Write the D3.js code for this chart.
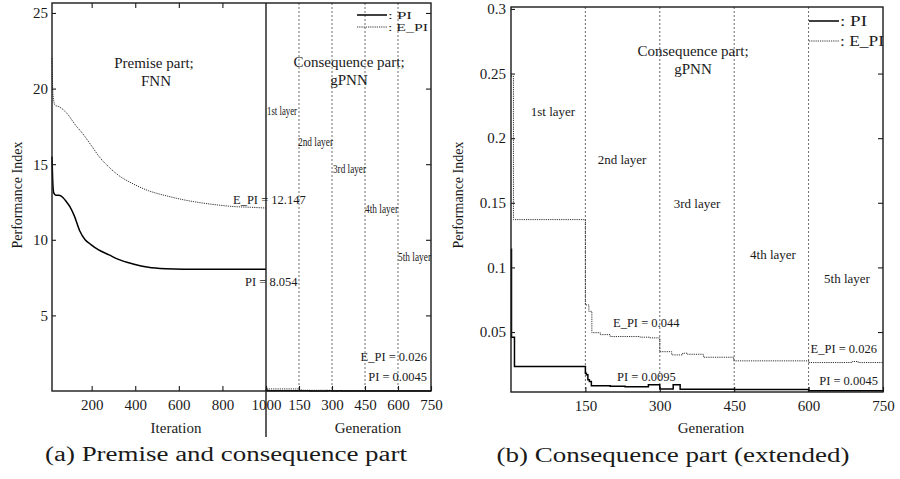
<!DOCTYPE html>
<html>
<head>
<meta charset="utf-8">
<script src="https://cdn.jsdelivr.net/npm/d3@7"></script>
<style>
  html, body { margin: 0; padding: 0; background: #fff; }
  svg { display: block; }
</style>
</head>
<body>
<div id="chart"></div>
<script>
// ── Data ──
// premise part, x = iteration
var iterPI = [[18, 15.5], [21, 14.0], [26, 13.1], [35, 12.95], [50, 12.95], [68, 12.8],
  [85, 12.5], [100, 12.2], [120, 11.6], [145, 10.6], [170, 10.0], [195, 9.7], [230, 9.35],
  [280, 9.0], [320, 8.72], [390, 8.4], [460, 8.18], [540, 8.08], [620, 8.05], [1000, 8.05]];
var iterEPI = [[18, 22.0], [20, 20.5], [24, 19.4], [32, 18.9], [50, 18.8], [70, 18.6],
  [90, 18.3], [125, 17.6], [160, 17.0], [200, 16.2], [240, 15.4], [280, 14.8], [320, 14.3],
  [390, 13.7], [460, 13.25], [545, 12.9], [620, 12.65], [700, 12.45], [780, 12.3],
  [850, 12.2], [930, 12.15], [1000, 12.1]];
// consequence part, x = generation (step changes)
var genPI = [[0, 0.114], [1, 0.046], [7, 0.0233], [150, 0.0182], [152, 0.0169], [155, 0.0131],
  [158, 0.0118], [162, 0.0085], [200, 0.0080], [230, 0.0076], [277, 0.0092], [300, 0.0059],
  [327, 0.0092], [341, 0.0058], [450, 0.0055], [600, 0.0045], [750, 0.0045]];
var genEPI = [[0, 0.248], [5, 0.137], [150, 0.071], [157, 0.066], [163, 0.0495], [180, 0.048],
  [200, 0.0465], [260, 0.046], [280, 0.0455], [300, 0.0348], [324, 0.0323], [346, 0.0336],
  [356, 0.0328], [388, 0.0305], [449, 0.0277], [600, 0.0264], [688, 0.0272], [700, 0.0264],
  [750, 0.0264]];

var layerBounds = [150, 300, 450, 600];
var layerNames = ['1st layer', '2nd layer', '3rd layer', '4th layer', '5th layer'];
var iterTicks = [200, 400, 600, 800, 1000];
var genTicks = [150, 300, 450, 600, 750];
var leftYTicks = [5, 10, 15, 20, 25];
var rightYTicks = [0.05, 0.1, 0.15, 0.2, 0.25, 0.3];

(function () {
  'use strict';

  var W = 900, H = 479;
  var SERIF = '"Liberation Serif", "Times New Roman", serif';
  var INK = '#1a1a1a';
  var FRAME_W = 1.4;

  var svg = d3.select('#chart').append('svg')
    .attr('width', W).attr('height', H)
    .attr('font-family', SERIF);

  // ── Scales ──
  var xIter = d3.scaleLinear().domain([18, 1000]).range([52, 266]);
  var xGenL = d3.scaleLinear().domain([0, 750]).range([266, 431]);
  var yL = d3.scaleLinear().domain([0, 25.66]).range([391, 3]);

  var xGenR = d3.scaleLinear().domain([0, 750]).range([511, 883]);
  var yR = d3.scaleLinear().domain([0.0036, 0.3015]).range([392, 7]);

  function styleAxis(sel, size) {
    sel.select('.domain').remove();
    sel.selectAll('.tick line').attr('stroke', INK).attr('stroke-width', 1.1);
    sel.selectAll('.tick text').attr('fill', INK).attr('font-size', size || '15px')
      .attr('font-family', SERIF);
  }

  function text(x, y, str, opts) {
    opts = opts || {};
    var t = svg.append('text')
      .attr('x', x).attr('y', y)
      .attr('fill', INK)
      .attr('font-size', opts.size || '13px')
      .attr('text-anchor', opts.anchor || 'start')
      .text(str);
    if (opts.len) t.attr('textLength', opts.len).attr('lengthAdjust', 'spacingAndGlyphs');
    return t;
  }

  // ── Layer separators (dotted) ──
  function separators(xs, y0, y1) {
    svg.append('g').selectAll('line')
      .data(layerBounds).join('line')
      .attr('x1', function (d) { return xs(d); })
      .attr('x2', function (d) { return xs(d); })
      .attr('y1', y0).attr('y2', y1)
      .attr('stroke', '#444').attr('stroke-width', 0.8)
      .attr('stroke-dasharray', '2,2');
  }
  separators(xGenL, 3, 391);
  separators(xGenR, 7, 392);

  // ── Curves ──
  function drawSeries(data, xs, ys, curve, dotted) {
    var line = d3.line()
      .x(function (d) { return xs(d[0]); })
      .y(function (d) { return ys(d[1]); })
      .curve(curve);
    var p = svg.append('path')
      .datum(data)
      .attr('d', line)
      .attr('fill', 'none');
    if (dotted) {
      p.attr('stroke', '#333').attr('stroke-width', 1).attr('stroke-dasharray', '1.2,1');
    } else {
      p.attr('stroke', '#000').attr('stroke-width', 1.5);
    }
  }

  drawSeries(iterEPI, xIter, yL, d3.curveMonotoneX, true);
  drawSeries(iterPI, xIter, yL, d3.curveMonotoneX, false);
  drawSeries(genEPI, xGenL, yL, d3.curveStepAfter, true);
  drawSeries(genPI, xGenL, yL, d3.curveStepAfter, false);

  drawSeries(genEPI, xGenR, yR, d3.curveStepAfter, true);
  drawSeries(genPI, xGenR, yR, d3.curveStepAfter, false);

  var fmtInt = d3.format('d');

  // ── Left panel axes ──
  svg.append('g').attr('transform', 'translate(0,391)')
    .call(d3.axisBottom(xIter).tickValues(iterTicks).tickSize(-5).tickPadding(8).tickFormat(fmtInt))
    .call(styleAxis);
  svg.append('g').attr('transform', 'translate(0,391)')
    .call(d3.axisBottom(xGenL).tickValues(genTicks).tickSize(-5).tickPadding(8).tickFormat(fmtInt))
    .call(styleAxis);
  svg.append('g').attr('transform', 'translate(0,3)')
    .call(d3.axisTop(xIter).tickValues(iterTicks.slice(0, 4)).tickSize(-5).tickFormat(''))
    .call(styleAxis);
  svg.append('g').attr('transform', 'translate(52,0)')
    .call(d3.axisLeft(yL).tickValues(leftYTicks).tickSize(-4).tickPadding(4))
    .call(styleAxis);
  svg.append('g').attr('transform', 'translate(431,0)')
    .call(d3.axisRight(yL).tickValues(leftYTicks).tickSize(-5).tickFormat(''))
    .call(styleAxis);

  // ── Right panel axes ──
  svg.append('g').attr('transform', 'translate(0,392)')
    .call(d3.axisBottom(xGenR).tickValues(genTicks).tickSize(-5).tickPadding(8).tickFormat(fmtInt))
    .call(styleAxis);
  svg.append('g').attr('transform', 'translate(511,0)')
    .call(d3.axisLeft(yR).tickValues(rightYTicks).tickSize(-4).tickPadding(5)
      .tickFormat(function (d) { return String(d); }))
    .call(styleAxis);
  svg.append('g').attr('transform', 'translate(883,0)')
    .call(d3.axisRight(yR).tickValues(rightYTicks.slice(0, 5)).tickSize(-5).tickFormat(''))
    .call(styleAxis);

  // ── Frames ──
  svg.append('rect').attr('x', 52).attr('y', 3).attr('width', 431 - 52).attr('height', 391 - 3)
    .attr('fill', 'none').attr('stroke', INK).attr('stroke-width', FRAME_W);
  svg.append('line').attr('x1', 266).attr('x2', 266).attr('y1', 3).attr('y2', 437)
    .attr('stroke', INK).attr('stroke-width', FRAME_W);
  svg.append('rect').attr('x', 511).attr('y', 7).attr('width', 883 - 511).attr('height', 392 - 7)
    .attr('fill', 'none').attr('stroke', INK).attr('stroke-width', FRAME_W);

  // ── Axis titles ──
  text(176, 433, 'Iteration', { size: '15px', anchor: 'middle' });
  text(368, 433, 'Generation', { size: '15px', anchor: 'middle' });
  text(711, 433, 'Generation', { size: '15px', anchor: 'middle' });
  svg.append('text').attr('transform', 'translate(22,195) rotate(-90)')
    .attr('text-anchor', 'middle').attr('fill', INK).attr('font-size', '14px')
    .text('Performance Index');
  svg.append('text').attr('transform', 'translate(463,195) rotate(-90)')
    .attr('text-anchor', 'middle').attr('fill', INK).attr('font-size', '14px')
    .text('Performance Index');

  // ── Legends ──
  function legend(x, y, gap, size, lens) {
    var half = parseFloat(size) * 0.33;
    svg.append('line').attr('x1', x).attr('x2', x + 30).attr('y1', y).attr('y2', y)
      .attr('stroke', '#000').attr('stroke-width', 1.5);
    text(x + 31, y + half, ': PI', { size: size, len: lens[0] });
    svg.append('line').attr('x1', x).attr('x2', x + 30).attr('y1', y + gap).attr('y2', y + gap)
      .attr('stroke', '#333').attr('stroke-width', 1).attr('stroke-dasharray', '1.2,1');
    text(x + 31, y + gap + half, ': E_PI', { size: size, len: lens[1] });
  }
  legend(357, 15, 12, '11px', [24, 40]);
  legend(809, 21, 20, '14px', [27, 44]);

  // ── Panel annotations ──
  text(154, 68, 'Premise part;', { size: '15px', anchor: 'middle' });
  text(156, 86, 'FNN', { size: '15px', anchor: 'middle' });
  text(349, 67, 'Consequence part;', { size: '15px', anchor: 'middle' });
  text(349, 85, 'gPNN', { size: '15px', anchor: 'middle' });
  text(693, 56, 'Consequence part;', { size: '15px', anchor: 'middle' });
  text(693, 74, 'gPNN', { size: '15px', anchor: 'middle' });

  // condensed layer names in the left panel
  var leftLayerPos = [[267, 115, 30], [298, 146, 35], [333, 173, 33], [365, 213, 33], [398, 261, 33]];
  layerNames.forEach(function (n, i) {
    var p = leftLayerPos[i];
    text(p[0], p[1], n, { size: '12px', len: p[2] });
  });
  var rightLayerPos = [[553, 116], [622, 164], [697, 208], [773, 259], [847, 283]];
  layerNames.forEach(function (n, i) {
    var p = rightLayerPos[i];
    text(p[0], p[1], n, { size: '13px', anchor: 'middle' });
  });

  // value call-outs
  text(233, 204, 'E_PI = 12.147', { size: '12.5px' });
  text(245, 286, 'PI = 8.054', { size: '12.5px' });
  text(427, 361, 'E_PI = 0.026', { size: '12.5px', anchor: 'end' });
  text(427, 381, 'PI = 0.0045', { size: '12.5px', anchor: 'end' });
  text(613, 327, 'E_PI = 0.044', { size: '12.5px' });
  text(617, 381, 'PI = 0.0095', { size: '12.5px' });
  text(877, 353, 'E_PI = 0.026', { size: '12.5px', anchor: 'end' });
  text(878, 385, 'PI = 0.0045', { size: '12.5px', anchor: 'end' });

  // ── Captions ──
  text(226, 461, '(a) Premise and consequence part', { size: '20px', anchor: 'middle', len: 362 });
  text(673, 462, '(b) Consequence part (extended)', { size: '20px', anchor: 'middle', len: 353 });
})();
</script>
</body>
</html>
